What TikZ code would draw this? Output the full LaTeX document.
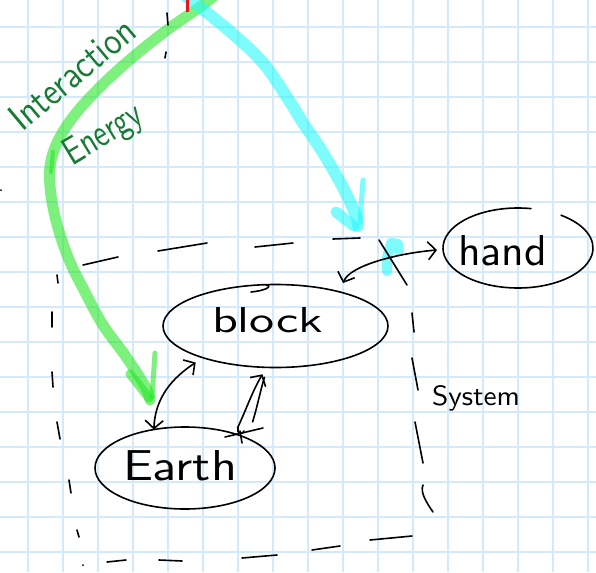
\documentclass[tikz,border=0pt]{standalone}
\usepackage{graphicx}
\usetikzlibrary{shapes.geometric,arrows.meta}
\definecolor{gridblue}{RGB}{212,234,250}
\definecolor{hlgreen}{RGB}{40,230,40}
\definecolor{hlcyan}{RGB}{40,250,250}
\definecolor{inkgreen}{RGB}{24,122,52}
\definecolor{inkred}{RGB}{235,20,30}
% hand-lettered word squeezed into a box of given width and height (pt)
\newcommand{\hw}[3]{\resizebox{#1pt}{#2pt}{\sffamily #3}}

\begin{document}
\begin{tikzpicture}[x=1pt,y=-1pt,
  inkline/.style={line width=1.6pt, line cap=round, line join=round, black},
  gridline/.style={gridblue, line width=1.6pt},
  bubble/.style={ellipse, inner sep=0pt, outer sep=0pt, inkline},
  word/.style={inner sep=0pt, outer sep=0pt},
  hwarrow/.style={inkline, arrows={-Straight Barb[length=8pt,width=18pt]}},
  hwboth/.style={inkline, arrows={Straight Barb[length=8pt,width=18pt]-Straight Barb[length=8pt,width=18pt]}},
  greenmark/.style={hlgreen, opacity=0.6, line cap=round, line join=round},
  cyanmark/.style={hlcyan, opacity=0.6, line cap=round, line join=round}]

\useasboundingbox (0,0) rectangle (596,572);
\fill[white] (0,0) rectangle (596,572);
\clip (0,0) rectangle (596,572);

% squared paper
\foreach \gx in {28,63,...,588} \draw[gridline] (\gx,0) -- (\gx,572);
\foreach \gy in {27,62,...,552} \draw[gridline] (0,\gy) -- (596,\gy);

% highlighter strokes
\draw[greenmark, line width=11pt] plot[smooth, tension=0.6] coordinates
  {(214,-4) (200,7) (167,30) (133,57) (100,87) (73,117) (57,143) (50,167)
   (51,195) (58,228) (70,262) (85,292) (103,325) (127,358) (146,388) (150,400)};
\draw[greenmark, line width=4pt] (53,152) -- (51,172);
\draw[greenmark, line width=9pt] (130,374) -- (149,398);
\draw[greenmark, line width=5pt] (155,353) -- (152,397);

\draw[cyanmark, line width=12pt] plot[smooth, tension=0.6] coordinates
  {(186,-4) (200,7) (233,34) (264,64) (290,102) (303,123) (320,148)
   (340,182) (355,213) (358,226)};
\draw[cyanmark, line width=11pt] (336,212) -- (354,226);
\draw[cyanmark, line width=5pt] (363,180) -- (360,222);
\draw[cyanmark, line width=10pt] (399,251) -- (398,244) -- (391,243) -- (387,258) -- (387,271);

\draw[inkred, line width=3pt] (187.5,0) -- (187.5,12);

% stray pen marks
\draw[inkline] (167,13) -- (168,25);
\draw[inkline] (166,52) -- (165,58);
\fill (1,190) circle (1pt);

% labels along the green stroke
\node[word, anchor=base west, rotate=40, text=inkgreen] (interlabel) at (22,133) {\hw{152}{27}{Interaction}};
\node[word, anchor=base west, rotate=31, text=inkgreen] (energylabel) at (72,166) {\hw{86}{27}{Energy}};

% system boundary, dashed by hand
\draw[inkline]
  (83,265) -- (118,257)  (158,251) -- (207,243)  (255,247) -- (293,243)  (333,239) -- (360,238)
  (379,240) -- (407,285)
  (412,313) -- (414,332)  (412,358) -- (418,390)  (415,422) -- (423,463)
  (423,485) .. controls (420,492) and (426,502) .. (433,512)
  (412,536) -- (370,540)  (340,546) -- (312,550)  (277,555) -- (242,558)
  (182,561) -- (159,560)  (126,560) -- (107,562)
  (77,530) -- (79,537)  (69,480) -- (71,493)  (57,422) -- (60,439)
  (52,372) -- (53,387)  (52,312) -- (52,327)  (57,275) -- (58,283);
\fill (83,565) circle (1pt);
\node[word, anchor=base west] (systemtext) at (432,405) {\hw{88}{20}{System}};

% objects
\node[bubble, draw, minimum width=225pt, minimum height=83pt] (block) at (275.5,326) {};
\draw[inkline] (266,285) .. controls (272,285) and (270,290) .. (251,292);
\node[word, anchor=base west] (blocktext) at (212,332) {\hw{111}{25}{block}};

\node[bubble, draw, minimum width=180pt, minimum height=82pt] (earth) at (185,468) {};
\node[word, anchor=base west] (earthtext) at (123,480) {\hw{114}{30}{Earth}};

\node[bubble, minimum width=150pt, minimum height=80pt] (hand) at (518,248) {};
\draw[inkline] ([shift={(80:75pt and 40pt)}]hand.center)
  arc[start angle=80, end angle=415, x radius=75pt, y radius=40pt];
\node[word, anchor=base west] (handtext) at (458,265) {\hw{89}{30}{hand}};

% interactions
\draw[hwboth] (earth.129) .. controls (155,398) and (172,378) .. ([shift={(-10pt,-4pt)}]block.205);
\draw[hwarrow] ([shift={(6pt,5pt)}]earth.37) .. controls (246,410) and (252,392) .. ([shift={(-2pt,-7pt)}]block.255);
\draw[inkline] ([shift={(21pt,11pt)}]earth.37) .. controls (257,408) and (260,392) .. ([shift={(0pt,-10pt)}]block.255);
\draw[inkline] (225,437) -- (263,428);
\draw[inkline] (240,431) -- (242,443);
\draw[inkline] (238,428) .. controls (236,434) and (243,435) .. (244,431);
\draw[hwboth] ([shift={(7pt,8pt)}]block.30) .. controls (350,265) and (400,253) .. ([shift={(-6pt,-2pt)}]hand.west);
\end{tikzpicture}
\end{document}
